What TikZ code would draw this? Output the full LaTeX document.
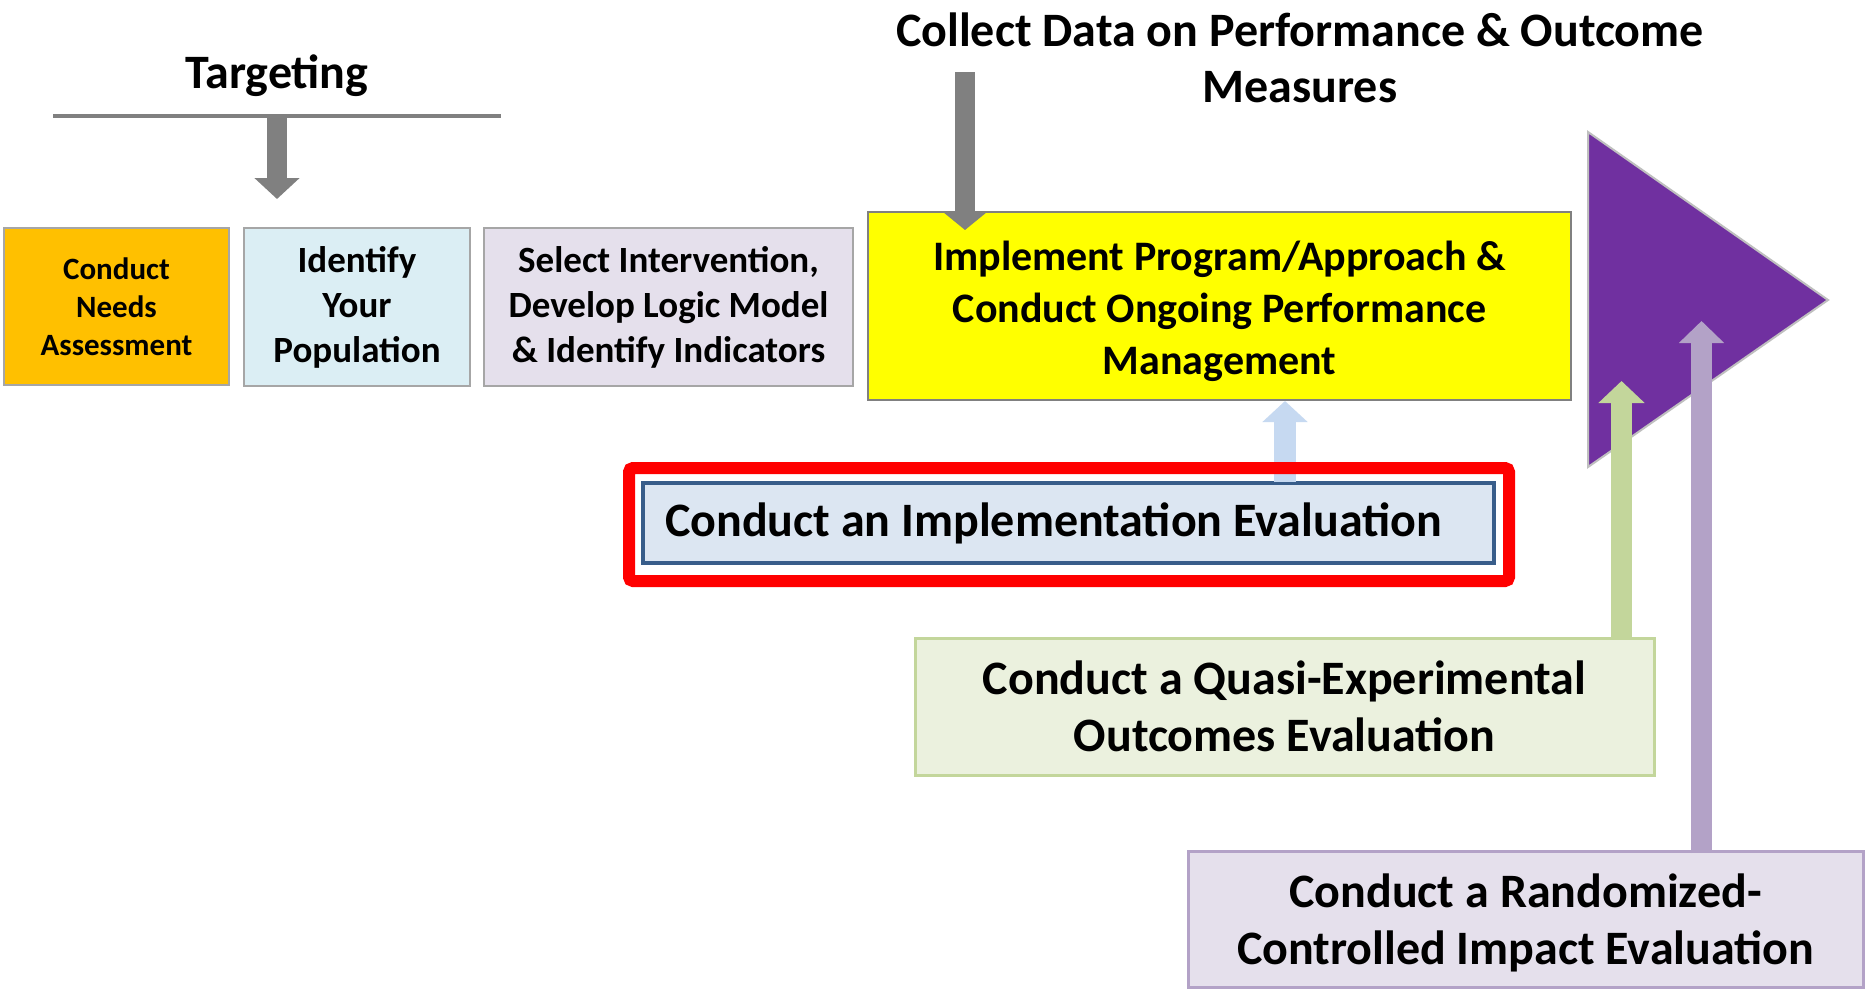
\documentclass[tikz,border=0pt]{standalone}
\usepackage{fontspec}
\setmainfont{Carlito}
\usetikzlibrary{arrows.meta}
\definecolor{cOrange}{HTML}{FFC000}
\definecolor{cLBlue}{HTML}{DBEEF4}
\definecolor{cLilac}{HTML}{E5E0EC}
\definecolor{cYellow}{HTML}{FFFF00}
\definecolor{cBlueFill}{HTML}{DCE6F2}
\definecolor{cBlueLine}{HTML}{385D8A}
\definecolor{cGreenFill}{HTML}{EBF1DE}
\definecolor{cGreenLine}{HTML}{C3D69B}
\definecolor{cPurpFill}{HTML}{E5E0EC}
\definecolor{cPurpLine}{HTML}{B3A2C7}
\definecolor{cTri}{HTML}{7030A0}
\definecolor{cTriLine}{HTML}{BFBFBF}
\definecolor{cGray}{HTML}{808080}
\definecolor{cBoxLine}{HTML}{A6A6A6}
\definecolor{cArrowBlue}{HTML}{C6D9F1}
\newcommand\fsz[2]{\fontsize{#1}{#2}\selectfont}
\begin{document}
\begin{tikzpicture}[x=1pt,y=-1pt,
  lbox/.style={draw=cBoxLine, line width=2pt, inner sep=0pt, align=center},
  grayarrow/.style={draw=cGray, line width=20pt, -{Triangle[width=44pt,length=21pt]}},
  toptext/.style={inner sep=0pt, align=center}
]
\useasboundingbox (0,0) rectangle (1865,988);
\fill[white] (0,0) rectangle (1865,988);

% purple triangle
\filldraw[fill=cTri, draw=cTriLine, line width=2pt] (1588,132) -- (1828,300) -- (1588,467) -- cycle;

% titles
\node[toptext, font=\bfseries\fsz{48}{56}] (targ) at (277,76) {Targeting};
\node[toptext, font=\bfseries\fsz{48}{56}] (collect) at (1300,58) {Collect Data on Performance \& Outcome\\Measures};

% targeting line
\draw[cGray, line width=4pt] (53,116) coordinate (hl) -- (501,116) coordinate (hr);
\coordinate (targtop) at (277,114);

% boxes row
\node[lbox, fill=cOrange, minimum width=225, minimum height=157, font=\bfseries\fsz{31}{38}] (needs) at (116.5,306.5)
  {Conduct\\Needs\\Assessment};
\node[lbox, fill=cLBlue, minimum width=226, minimum height=158, font=\bfseries\fsz{37}{45}] (pop) at (357,307)
  {Identify\\Your\\Population};
\node[lbox, fill=cLilac, minimum width=369, minimum height=158, font=\bfseries\fsz{37}{45}] (sel) at (668.5,307)
  {Select Intervention,\\Develop Logic Model\\\& Identify Indicators};
\node[lbox, draw=cGray, line width=2.5pt, fill=cYellow, minimum width=703, minimum height=188] (impl) at (1219.5,306) {};
\node[toptext, font=\bfseries\fsz{42}{52}] (implt) at (1219.5,311)
  {Implement Program/Approach \&\\Conduct Ongoing Performance\\Management};

% evaluation boxes
\node[draw=cBlueLine, line width=3.5pt, fill=cBlueFill, minimum height=80, inner xsep=22pt, inner ysep=0pt, font=\bfseries\fsz{48}{56}] (impev) at (1068.5,523)
  {\makebox[807pt][l]{Conduct an Implementation Evaluation}};
\node[draw=cGreenLine, line width=3pt, fill=cGreenFill, minimum width=739, minimum height=137, inner sep=0pt, align=center, font=\bfseries\fsz{48}{57}] (quasi) at (1284.5,706.5)
  {Conduct a Quasi-Experimental\\Outcomes Evaluation};
\node[draw=cPurpLine, line width=3pt, fill=cPurpFill, minimum width=675, minimum height=136] (rct) at (1525.5,919) {};
\node[toptext, font=\bfseries\fsz{48}{57}] (rctt) at (1525.5,923)
  {Conduct a Randomized-\\Controlled Impact Evaluation};

% connector end points
\coordinate (targtip) at (277,199);
\coordinate (colltop) at (965,72);
\coordinate (colltip) at (965,230);
\coordinate (ibase) at (1285,482);
\coordinate (itip) at (1285,401);
\coordinate (qbase) at (1621.5,639);
\coordinate (qtip) at (1621.5,381);
\coordinate (rbase) at (1701.5,853);
\coordinate (rtip) at (1701.5,321);

% arrows
\draw[grayarrow] (targtop) -- (targtip);
\draw[draw=cGray, line width=20pt, -{Triangle[width=43pt,length=18pt]}] (colltop) -- (colltip);
\draw[draw=cArrowBlue, line width=22pt, -{Triangle[width=44pt,length=21pt]}] (ibase) -- (itip);
\draw[draw=cGreenLine, line width=21pt, -{Triangle[width=45pt,length=22pt]}] (qbase) -- (qtip);
\draw[draw=cPurpLine, line width=21pt, -{Triangle[width=44pt,length=22pt]}] (rbase) -- (rtip);

% red highlight frame
\draw[red, line width=12pt, rounded corners=4pt] (629,468) rectangle (1509,581);
\end{tikzpicture}
\end{document}
